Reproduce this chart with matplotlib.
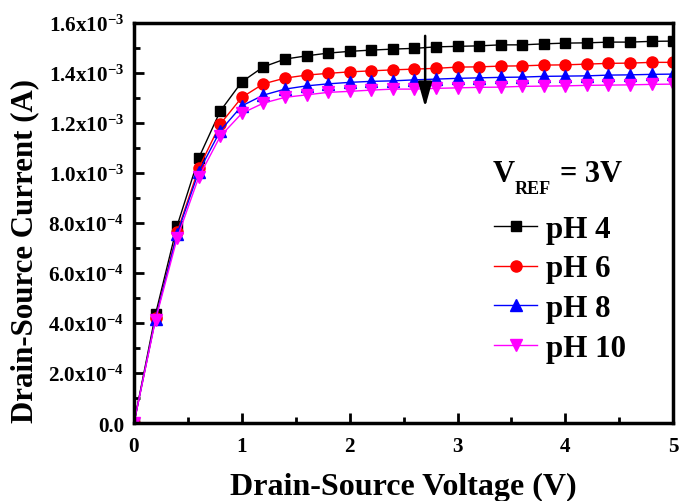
import matplotlib
matplotlib.use("Agg")
import matplotlib.pyplot as plt
from matplotlib.ticker import MultipleLocator, FuncFormatter

plt.rcParams['font.family'] = ['Liberation Serif', 'DejaVu Serif']
plt.rcParams['font.weight'] = 'bold'
plt.rcParams['mathtext.fontset'] = 'custom'
plt.rcParams['mathtext.rm'] = 'Liberation Serif:bold'
plt.rcParams['mathtext.bf'] = 'Liberation Serif:bold'
plt.rcParams['mathtext.it'] = 'Liberation Serif:bold:italic'
plt.rcParams['mathtext.default'] = 'rm'

# Drain-source voltage sweep (V)
vds = [0.0, 0.2, 0.4, 0.6, 0.8, 1.0, 1.2, 1.4, 1.6, 1.8, 2.0, 2.2, 2.4,
       2.6, 2.8, 3.0, 3.2, 3.4, 3.6, 3.8, 4.0, 4.2, 4.4, 4.6, 4.8, 5.0]

# Drain-source current (mA) for each buffer pH
ids_ph4 = [0.0, 0.436, 0.789, 1.060, 1.248, 1.365, 1.425, 1.456, 1.469, 1.480,
           1.487, 1.492, 1.496, 1.499, 1.505, 1.507, 1.509, 1.513, 1.513, 1.517,
           1.520, 1.521, 1.524, 1.524, 1.527, 1.528]
ids_ph6 = [0.0, 0.420, 0.763, 1.019, 1.196, 1.303, 1.357, 1.380, 1.392, 1.399,
           1.405, 1.409, 1.413, 1.416, 1.419, 1.424, 1.425, 1.428, 1.429, 1.432,
           1.433, 1.436, 1.439, 1.440, 1.443, 1.443]
ids_ph8 = [0.0, 0.418, 0.757, 1.005, 1.169, 1.269, 1.312, 1.336, 1.349, 1.357,
           1.363, 1.367, 1.369, 1.373, 1.376, 1.379, 1.381, 1.383, 1.384, 1.387,
           1.388, 1.389, 1.392, 1.393, 1.395, 1.396]
ids_ph10 = [0.0, 0.413, 0.739, 0.983, 1.147, 1.239, 1.280, 1.303, 1.313, 1.323,
            1.327, 1.332, 1.336, 1.336, 1.339, 1.341, 1.343, 1.344, 1.347, 1.348,
            1.349, 1.351, 1.352, 1.353, 1.355, 1.356]

labels = ['pH 4', 'pH 6', 'pH 8', 'pH 10']
colors = ['black', 'red', 'blue', 'magenta']
markers = ['s', 'o', '^', 'v']
marker_sizes = [7.2, 8.0, 8.0, 8.0]
series = [ids_ph4, ids_ph6, ids_ph8, ids_ph10]

W, H = 680, 502
fig = plt.figure(figsize=(W / 100, H / 100), dpi=100)
ax = fig.add_axes([0.197, 0.155, 0.793, 0.797])

for y, lab, c, m, ms in zip(series, labels, colors, markers, marker_sizes):
    ax.plot(vds, [v * 1e-3 for v in y], color=c, marker=m, markersize=ms,
            markeredgecolor=c, markerfacecolor=c, linewidth=1.0, label=lab)

ax.set_xlim(0, 5)
ax.set_ylim(0, 1.6e-3)
ax.xaxis.set_major_locator(MultipleLocator(1))
ax.xaxis.set_minor_locator(MultipleLocator(0.5))
ax.yaxis.set_major_locator(MultipleLocator(0.2e-3))
ax.yaxis.set_minor_locator(MultipleLocator(0.1e-3))


def sci_fmt(val, pos):
    if abs(val) < 1e-12:
        return '0.0'
    exp = 0
    mant = val
    while abs(mant) < 1.0:
        mant *= 10
        exp -= 1
    return r'%.1fx10$^{%d}$' % (mant, exp)


ax.yaxis.set_major_formatter(FuncFormatter(sci_fmt))
ax.xaxis.set_major_formatter(FuncFormatter(lambda v, p: '%d' % round(v)))

for sp in ax.spines.values():
    sp.set_linewidth(2.5)
ax.tick_params(which='both', direction='in', top=False, right=False, width=2)
ax.tick_params(which='major', length=7, labelsize=15.2)
ax.tick_params(axis='y', which='major', pad=7)
ax.tick_params(axis='x', which='major', pad=9)
ax.tick_params(which='minor', length=4)

ax.set_xlabel('Drain-Source Voltage (V)', fontsize=23, fontweight='bold')
ax.xaxis.set_label_coords(0.5, -0.121, transform=ax.transAxes)
ax.xaxis.label.set_va('top')
ax.set_ylabel('Drain-Source Current (A)', fontsize=22.2, fontweight='bold')
ax.yaxis.set_label_coords(-0.202, 0.4325, transform=ax.transAxes)
ax.yaxis.label.set_va('center')

# Arrow showing the decrease of current with increasing pH
ax.annotate('', xy=(2.7, 1.264e-3), xytext=(2.7, 1.549e-3),
            arrowprops=dict(arrowstyle='-|>,head_length=1.0,head_width=0.28',
                            color='black', lw=1.8, mutation_scale=15,
                            shrinkA=0, shrinkB=0))


def fig_text(px, py, s, size):
    fig.text(px / W, 1 - py / H, s, fontsize=size, fontweight='bold',
             ha='left', va='baseline')


fig_text(493, 182, 'V', 22)
fig_text(515, 194, 'REF', 13)
fig_text(560, 182, '= 3V', 22)

leg = ax.legend(loc='upper left', bbox_to_anchor=(0.6456, 0.5525), frameon=False,
                fontsize=22.3, handlelength=1.37, handletextpad=0.3,
                labelspacing=0.35, borderaxespad=0)

fig.savefig('out.png', dpi=100)
